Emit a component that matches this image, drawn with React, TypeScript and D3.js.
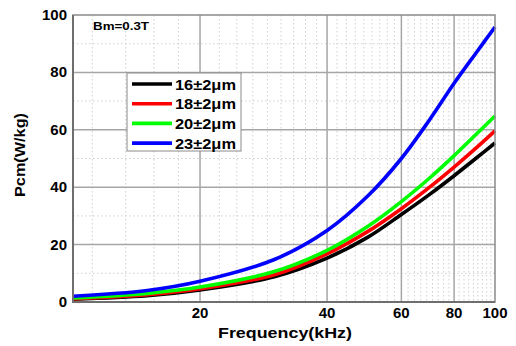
import React from "react";
import * as d3 from "d3";

const freqs = [10, 15, 20, 30, 40, 50, 60, 70, 80, 90, 100];
const s16 = [1.0, 2.2, 4.2, 8.8, 15.3, 22.6, 30.5, 37.5, 44, 50, 55.4];
const s18 = [1.1, 2.5, 4.6, 9.5, 16.8, 24.6, 32.5, 40, 47, 53.5, 59.6];
const s20 = [1.4, 3.0, 5.2, 10.6, 18, 26.4, 35, 43.2, 51, 58.3, 64.8];
const s23 = [2.0, 4.0, 7.2, 14.8, 24.9, 37, 50, 63.5, 76.2, 86.6, 95.8];
const seriesNames = ["16±2μm", "18±2μm", "20±2μm", "23±2μm"];
const seriesColors = ["#000000", "#ff0000", "#00ff00", "#0000ff"];
const xTicks = [20, 40, 60, 80, 100];
const yTicks = [0, 20, 40, 60, 80, 100];
const yMinor = [10, 30, 50, 70, 90];

const W = 516;
const H = 346;
const L = 73, R = 495, T = 15, B = 302;

export default function App() {
  const x = d3.scaleLog().domain([10, 100]).range([L, R]);
  const y = d3.scaleLinear().domain([0, 100]).range([B, T]);
  const all = [s16, s18, s20, s23];
  const line = d3
    .line<[number, number]>()
    .x((d) => x(d[0]))
    .y((d) => y(d[1]))
    .curve(d3.curveCatmullRom.alpha(0.5));

  const xMinor: number[] = [];
  for (let a = 0; a < 100; a += 20) {
    for (let j = 1; j <= 8; j++) {
      const v = a + (j * 20) / 9;
      if (v > 10 && v < 100) xMinor.push(v);
    }
  }
  const font = "Arial, 'Liberation Sans', sans-serif";

  return (
    <div style={{ position: "fixed", left: 0, top: 0, width: W, height: H, background: "#fff" }}>
      <svg width={W} height={H} style={{ display: "block" }}>
        <rect x={0} y={0} width={W} height={H} fill="#fff" />
        {/* minor grid */}
        {xMinor.map((v, i) => (
          <line key={"xm" + i} x1={x(v)} x2={x(v)} y1={T} y2={B} stroke="#cfcfcf" strokeWidth={1} strokeDasharray="1.5,2.5" />
        ))}
        {yMinor.map((v, i) => (
          <line key={"ym" + i} x1={L} x2={R} y1={y(v)} y2={y(v)} stroke="#cfcfcf" strokeWidth={1} strokeDasharray="1.5,2.5" />
        ))}
        {/* major grid */}
        {xTicks.slice(0, -1).map((v) => (
          <line key={"xg" + v} x1={x(v)} x2={x(v)} y1={T} y2={B} stroke="#a6a6a6" strokeWidth={1.5} />
        ))}
        {yTicks.slice(1, -1).map((v) => (
          <line key={"yg" + v} x1={L} x2={R} y1={y(v)} y2={y(v)} stroke="#a6a6a6" strokeWidth={1.5} />
        ))}
        {/* curves */}
        {all.map((s, i) => (
          <path
            key={"c" + i}
            d={line(freqs.map((f, k) => [f, s[k]] as [number, number])) || ""}
            fill="none"
            stroke={seriesColors[i]}
            strokeWidth={3.6}
          />
        ))}
        {/* frame */}
        <rect x={L} y={T} width={R - L} height={B - T} fill="none" stroke="#8a8a8a" strokeWidth={1.5} />
        <line x1={L} x2={L} y1={T} y2={B + 1} stroke="#6e6e6e" strokeWidth={2} />
        <line x1={L} x2={R} y1={B} y2={B} stroke="#6e6e6e" strokeWidth={2} />
        {/* y tick labels */}
        {yTicks.map((v) => (
          <text key={"yl" + v} x={67} y={y(v) + 5} textAnchor="end" fontFamily={font} fontWeight="bold" fontSize={15} fill="#000">
            {v}
          </text>
        ))}
        {/* x tick labels */}
        {xTicks.map((v) => (
          <text key={"xl" + v} x={x(v)} y={318} textAnchor="middle" fontFamily={font} fontWeight="bold" fontSize={15} fill="#000">
            {v}
          </text>
        ))}
        {/* axis titles */}
        <text x={285} y={338} textAnchor="middle" fontFamily={font} fontWeight="bold" fontSize={15} textLength={134} lengthAdjust="spacingAndGlyphs">
          Frequency(kHz)
        </text>
        <text
          transform="translate(25,155) rotate(-90)"
          textAnchor="middle"
          fontFamily={font}
          fontWeight="bold"
          fontSize={15}
          textLength={84}
          lengthAdjust="spacingAndGlyphs"
        >
          Pcm(W/kg)
        </text>
        <text x={93} y={30} fontFamily={font} fontWeight="bold" fontSize={11.5} textLength={56} lengthAdjust="spacingAndGlyphs">
          Bm=0.3T
        </text>
        {/* legend */}
        <rect x={127} y={73} width={114} height={78} fill="#fff" stroke="#8a8a8a" strokeWidth={1} />
        {seriesNames.map((n, i) => {
          const yy = 84 + i * 19.7;
          return (
            <g key={"lg" + i}>
              <line x1={132} x2={172} y1={yy} y2={yy} stroke={seriesColors[i]} strokeWidth={3.6} />
              <text x={175} y={yy + 5.5} fontFamily={font} fontWeight="bold" fontSize={15} textLength={61} lengthAdjust="spacingAndGlyphs">
                {n}
              </text>
            </g>
          );
        })}
      </svg>
    </div>
  );
}
